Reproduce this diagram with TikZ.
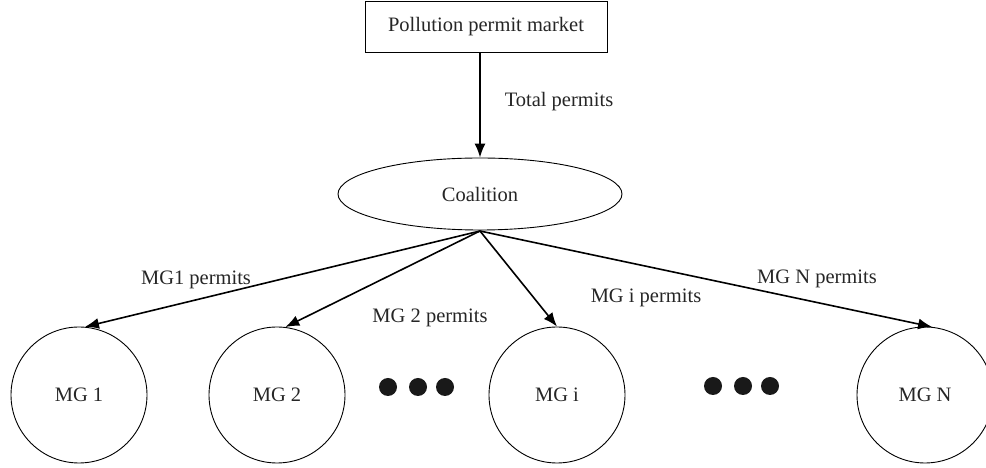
\documentclass[tikz,border=0pt]{standalone}
\usepackage{fontspec}
\setmainfont{Liberation Serif}
\usetikzlibrary{shapes.geometric,arrows.meta}
\begin{document}
\begin{tikzpicture}[x=1pt,y=1pt,
  lbl/.style={font=\fontsize{20.5}{24}\selectfont, text=black!85},
  mg/.style={circle, draw, line width=0.9pt, minimum size=136pt, inner sep=0pt, font=\fontsize{20.5}{24}\selectfont, text=black!85},
  arr/.style={line width=1.6pt, -{Latex[length=14pt,width=11pt]}},
  dot/.style={circle, fill=black!90, minimum size=18pt, inner sep=0pt}]
\useasboundingbox (0,0) rectangle (986,468);
\node[draw, line width=0.9pt, minimum width=242pt, minimum height=51pt, lbl] (market) at (486,441) {Pollution permit market};
\node[ellipse, draw, line width=0.9pt, minimum width=284pt, minimum height=72pt, lbl] (coal) at (480,274) {Coalition};
\coordinate (cb) at (480,237);
\node[mg] (mg1) at (79,73) {MG 1};
\node[mg] (mg2) at (277,73) {MG 2};
\node[mg] (mgi) at (557,73) {MG i};
\node[mg] (mgn) at (925,73) {MG N};
\node[dot] (d1) at (388,81) {};
\node[dot] (d2) at (418,81) {};
\node[dot] (d3) at (445,81) {};
\node[dot] (d4) at (713,82) {};
\node[dot] (d5) at (743,82) {};
\node[dot] (d6) at (770,82) {};
\draw[arr] (market.south -| coal.north) -- (coal.north);
\draw[arr] (cb) -- (mg1.85);
\draw[arr] (cb) -- (mg2.83);
\draw[arr] (cb) -- (mgi.90);
\draw[arr] (cb) -- (mgn.84);
\node[lbl] (t0) at (559,366) {Total permits};
\node[lbl] (t1) at (196,188) {MG1 permits};
\node[lbl] (t2) at (430,150) {MG 2 permits};
\node[lbl] (t3) at (646,170) {MG i permits};
\node[lbl] (t4) at (817,189) {MG N permits};
\end{tikzpicture}
\end{document}
